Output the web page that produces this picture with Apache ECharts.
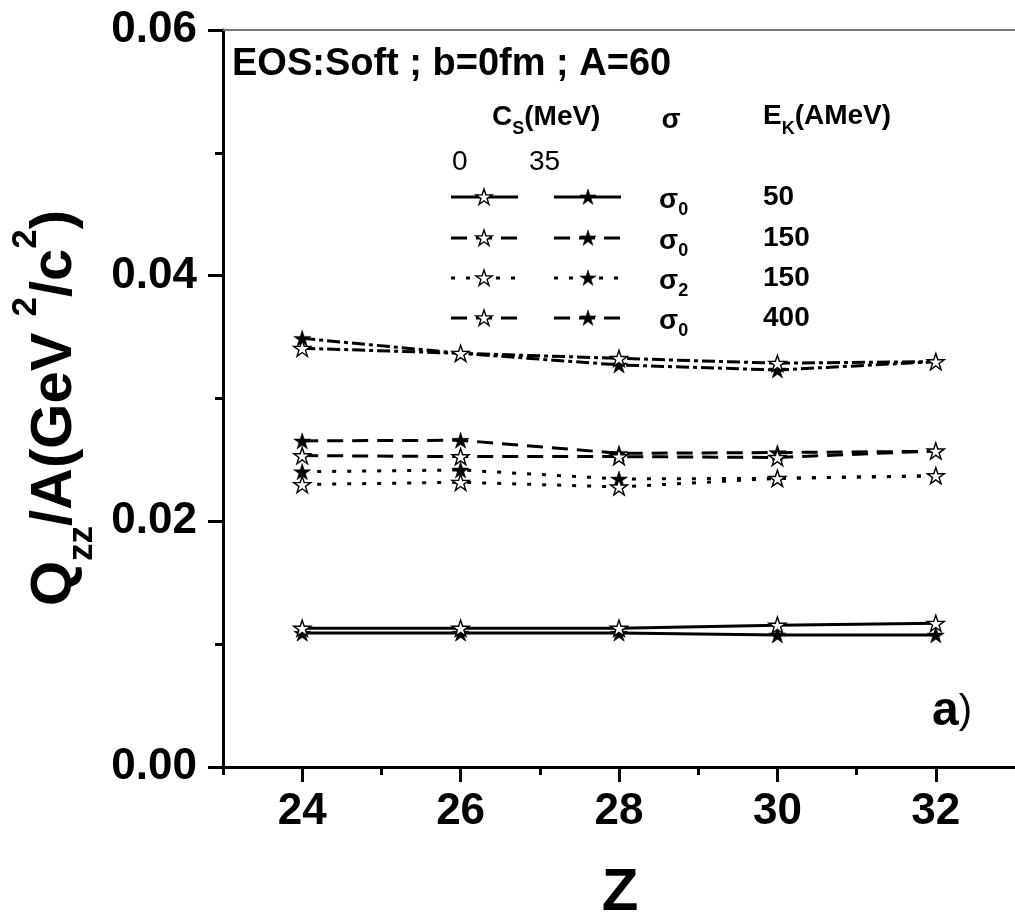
<!DOCTYPE html>
<html><head><meta charset="utf-8">
<script src="https://cdn.jsdelivr.net/npm/echarts@6/dist/echarts.min.js"></script>
<style>html,body{margin:0;padding:0;background:#fff}#c{width:1015px;height:917px}</style>
</head><body><div id="c"></div>
<script>
// ---- data ----
const zValues = [24, 26, 28, 30, 32];
const xTickLabels = [24, 26, 28, 30, 32];
const xMinorTicks = [23, 25, 27, 29, 31];
// E_K = 50 AMeV, sigma0 (solid)
const open50   = [0.0113, 0.0113, 0.0113, 0.01155, 0.0117];
const filled50 = [0.0109, 0.0109, 0.0109, 0.01075, 0.01075];
// E_K = 150 AMeV, sigma0 (dashed)
const open150   = [0.02535, 0.02527, 0.02527, 0.0252, 0.02573];
const filled150 = [0.02655, 0.0266, 0.02554, 0.0256, 0.0257];
// E_K = 150 AMeV, sigma2 (dotted)
const open150s2   = [0.0230, 0.02318, 0.0228, 0.0235, 0.02372];
const filled150s2 = [0.02404, 0.02418, 0.02345, 0.0235, 0.0237];
// E_K = 400 AMeV, sigma0 (dash-dot)
const open400   = [0.03409, 0.03368, 0.03327, 0.03287, 0.0330];
const filled400 = [0.0349, 0.03368, 0.03273, 0.03232, 0.0330];
// legend texts
const legendEnergies = ['50', '150', '150', '400'];
const legendSigmaSub = ['0', '0', '2', '0'];

const STAR_PTS = [[50,0],[61.23,34.55],[97.55,34.55],[68.16,55.9],[79.39,90.45],[50,69.1],[20.61,90.45],[31.84,55.9],[2.45,34.55],[38.77,34.55]];
const STAR = 'path://M' + STAR_PTS.map(p => p.join(',')).join('L') + 'Z';
const FONT = '"Liberation Sans", Arial, sans-serif';
const STAR_SIZE = 17;

const DASH = {solid: 'solid', dashed: [16, 9], dotted: [4, 11], dashdot: [13, 4, 4, 4]};

function mk(name, vals, filled, dash) {
  return {
    name, type: 'line', xAxisIndex: 0, yAxisIndex: 0,
    data: zValues.map((z, i) => [z, vals[i]]),
    symbol: STAR, symbolSize: STAR_SIZE, symbolKeepAspect: true,
    lineStyle: {color: '#000', width: 3, type: dash},
    itemStyle: {color: filled ? '#000' : '#fff', borderColor: '#000', borderWidth: filled ? 0.5 : 1.4},
    z: filled ? 2 : 3, animation: false, emphasis: {disabled: true}
  };
}

const series = [
  mk('f50', filled50, true, DASH.solid),
  mk('f150', filled150, true, DASH.dashed),
  mk('f150s2', filled150s2, true, DASH.dotted),
  mk('f400', filled400, true, DASH.dashdot),
  mk('o50', open50, false, DASH.solid),
  mk('o150', open150, false, DASH.dashed),
  mk('o150s2', open150s2, false, DASH.dotted),
  mk('o400', open400, false, DASH.dashdot)
];

// legend graphics
const rowY = [197, 238, 278, 318];
const rowDash = [null, [16, 9], [4, 11], [16, 9]];
const graphics = [];
function star(cx, cy, filled) {
  const s = STAR_SIZE / 100;
  return {type: 'polygon', z: 100,
    shape: {points: STAR_PTS.map(p => [cx + (p[0] - 50) * s, cy + (p[1] - 47) * s])},
    style: {fill: filled ? '#000' : '#fff', stroke: '#000', lineWidth: filled ? 0.5 : 1.4}};
}
function txt(x, y, text, rich, align, extra) {
  return Object.assign({type: 'text', x, y, z: 100, style: {text, rich, align: align || 'left', verticalAlign: 'middle', fill: '#000'}}, extra || {});
}
rowY.forEach((y, i) => {
  [[451, 518, false, 484], [554, 621, true, 588]].forEach(([x1, x2, f, sx]) => {
    const ln = {type: 'line', z: 99, shape: {x1, y1: y, x2, y2: y}, style: {stroke: '#000', lineWidth: 3}};
    if (rowDash[i]) ln.style.lineDash = rowDash[i];
    graphics.push(ln);
    graphics.push(star(sx, y, f));
  });
  graphics.push(txt(659, y + 3, '{b|σ}{s|' + legendSigmaSub[i] + '}', {
    b: {fontSize: 28, fontWeight: 'bold', fontFamily: FONT, lineHeight: 38, verticalAlign: 'middle'},
    s: {fontSize: 18, fontWeight: 'bold', fontFamily: FONT, lineHeight: 18, verticalAlign: 'bottom'}
  }));
  graphics.push(txt(763, y + 0.5, '{b|' + legendEnergies[i] + '}', {b: {fontSize: 28, fontWeight: 'bold', fontFamily: FONT}}));
});
const subRich = (L) => ({
  b: {fontSize: 28, fontWeight: 'bold', fontFamily: FONT, lineHeight: L, verticalAlign: 'middle'},
  s: {fontSize: 18, fontWeight: 'bold', fontFamily: FONT, lineHeight: 18, verticalAlign: 'bottom'}
});
graphics.push(txt(492, 117, '{b|C}{s|S}{b|(MeV)}', subRich(43)));
graphics.push(txt(671, 120.5, '{b|σ}', subRich(28), 'center'));
graphics.push(txt(763, 116, '{b|E}{s|K}{b|(AMeV)}', subRich(44)));
graphics.push(txt(452, 162, '{n|0}', {n: {fontSize: 28, fontFamily: FONT}}));
graphics.push(txt(529, 162, '{n|35}', {n: {fontSize: 28, fontFamily: FONT}}));
// title
graphics.push(txt(232, 64.5, '{b|EOS:Soft ; b=0fm ; A=60}', {b: {fontSize: 38, fontWeight: 'bold', fontFamily: FONT}}));
// panel label
graphics.push(txt(932, 712, '{b|a}{n|)}', {b: {fontSize: 48, fontWeight: 'bold', fontFamily: FONT}, n: {fontSize: 40, fontFamily: FONT}}));
// x title
graphics.push(txt(620, 893, '{b|Z}', {b: {fontSize: 60, fontWeight: 'bold', fontFamily: FONT}}, 'center'));
// y title (rotated)
graphics.push(txt(54.5, 408, '{m|Q}{s|zz}{m|/A(GeV }{p|2}{m|/c}{p|2}{m|)}', {
  m: {fontSize: 58, fontWeight: 'bold', fontFamily: FONT, lineHeight: 91, verticalAlign: 'middle'},
  s: {fontSize: 35, fontWeight: 'bold', fontFamily: FONT, lineHeight: 38, verticalAlign: 'bottom'},
  p: {fontSize: 35, fontWeight: 'bold', fontFamily: FONT, lineHeight: 42, verticalAlign: 'top'}
}, 'center', {rotation: Math.PI / 2}));

const chart = echarts.init(document.getElementById('c'), null, {renderer: 'canvas'});
chart.setOption({
  animation: false,
  backgroundColor: '#fff',
  grid: {left: 223, right: -3, top: 30, bottom: 150, containLabel: false},
  xAxis: [
    {type: 'value', min: 23, max: 33, interval: 1, position: 'bottom',
      axisLine: {show: true, onZero: false, lineStyle: {color: '#000', width: 3}},
      axisTick: {show: true, customValues: xTickLabels, length: 15, lineStyle: {color: '#000', width: 3}},
      axisLabel: {show: true, customValues: xTickLabels, fontSize: 44, fontWeight: 'bold', fontFamily: FONT, color: '#000', margin: 23},
      splitLine: {show: false}},
    {type: 'value', min: 23, max: 33, interval: 1, position: 'bottom', offset: 0,
      axisLine: {show: false, onZero: false},
      axisTick: {show: true, customValues: xMinorTicks, length: 8, lineStyle: {color: '#000', width: 3}},
      axisLabel: {show: false}, splitLine: {show: false}},
    {type: 'value', min: 23, max: 33, interval: 1, position: 'top',
      axisLine: {show: true, onZero: false, lineStyle: {color: '#777', width: 2}},
      axisTick: {show: false}, axisLabel: {show: false}, splitLine: {show: false}}
  ],
  yAxis: {type: 'value', min: 0, max: 0.06, interval: 0.02, position: 'left',
    axisLine: {show: true, onZero: false, lineStyle: {color: '#000', width: 3}},
    axisTick: {show: true, length: 15, lineStyle: {color: '#000', width: 3}},
    minorTick: {show: true, splitNumber: 2, length: 8, lineStyle: {color: '#000', width: 3}},
    axisLabel: {formatter: v => v.toFixed(2), fontSize: 44, fontWeight: 'bold', fontFamily: FONT, color: '#000', margin: 26},
    splitLine: {show: false}, minorSplitLine: {show: false}},
  series,
  graphic: {elements: graphics}
});
</script></body></html>
